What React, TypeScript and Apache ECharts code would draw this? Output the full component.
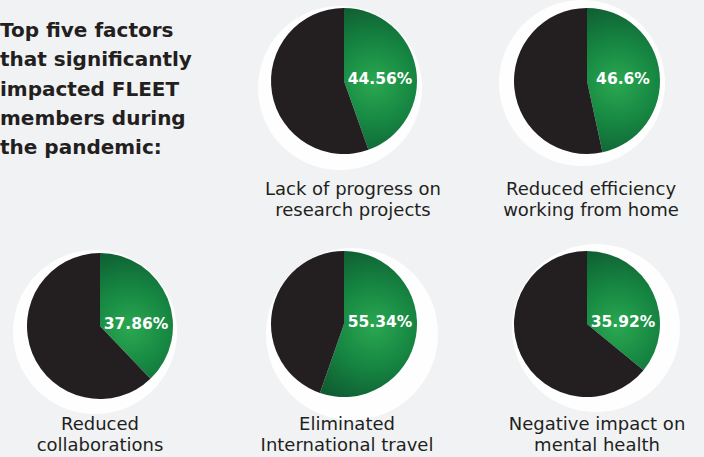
import React, { useEffect, useRef } from "react";
import * as echarts from "echarts";

const titleLines = ["Top five factors", "that significantly", "impacted FLEET", "members during", "the pandemic:"];
const factors = [
  ["Lack of progress on", "research projects"],
  ["Reduced efficiency", "working from home"],
  ["Reduced", "collaborations"],
  ["Eliminated", "International travel"],
  ["Negative impact on", "mental health"],
];
const percentages = [44.56, 46.6, 37.86, 55.34, 35.92];

// layout (positions in px)
const pieCenters = [[344, 81], [587, 81], [100, 326], [344, 324], [587, 324]];
const backCircles = [[340, 88, 82], [582, 83, 83], [95, 332, 82], [352, 334, 86], [596, 328, 84]];
const captionPos = [[353, 188], [591, 188], [100, 423], [347, 423], [597, 423]];
const R = 73;
const DARK = "#231f20";
const FONT = "'DejaVu Sans', sans-serif";

export default function App() {
  const ref = useRef<HTMLDivElement>(null);
  useEffect(() => {
    document.body.style.margin = "0";
    const chart = echarts.init(ref.current!, null, { renderer: "svg" });
    const graphic: any[] = [];
    backCircles.forEach(([x, y, r]) => {
      graphic.push({ type: "circle", z: 0, shape: { cx: x, cy: y, r }, style: { fill: "#fefefe" }, silent: true });
    });
    titleLines.forEach((t, i) => {
      graphic.push({
        type: "text", z: 5, x: 0, y: 30 + i * 29.3,
        style: { text: t, fill: DARK, font: `bold 20px ${FONT}`, textVerticalAlign: "middle", textAlign: "left" },
      });
    });
    factors.forEach((lines, i) => {
      const [cx, cy] = captionPos[i];
      lines.forEach((t, j) => {
        graphic.push({
          type: "text", z: 5, x: cx, y: cy + j * 21.5,
          style: { text: t, fill: DARK, font: `normal 18px ${FONT}`, textAlign: "center", textVerticalAlign: "middle" },
        });
      });
    });
    percentages.forEach((p, i) => {
      const [cx, cy] = pieCenters[i];
      graphic.push({
        type: "text", z: 10, x: cx + 36, y: cy - 2,
        style: { text: p + "%", fill: "#ffffff", font: `bold 15.5px ${FONT}`, textAlign: "center", textVerticalAlign: "middle" },
      });
    });
    const series = percentages.map((p, i) => {
      const [cx, cy] = pieCenters[i];
      return {
        type: "pie",
        z: 2,
        center: [cx, cy],
        radius: [0, R],
        startAngle: 90,
        clockwise: true,
        silent: true,
        label: { show: false },
        labelLine: { show: false },
        itemStyle: { borderWidth: 0 },
        data: [
          {
            value: p,
            itemStyle: {
              color: {
                type: "radial", x: cx + 30, y: cy + 2, r: 82, global: true,
                colorStops: [
                  { offset: 0, color: "#2aa850" },
                  { offset: 0.5, color: "#168642" },
                  { offset: 1, color: "#0f5c31" },
                ],
              },
            },
          },
          { value: 100 - p, itemStyle: { color: DARK } },
        ],
      };
    });
    chart.setOption({
      animation: false,
      backgroundColor: "#f1f2f4",
      graphic,
      series,
    });
    return () => chart.dispose();
  }, []);
  return <div ref={ref} style={{ width: 704, height: 457 }} />;
}
